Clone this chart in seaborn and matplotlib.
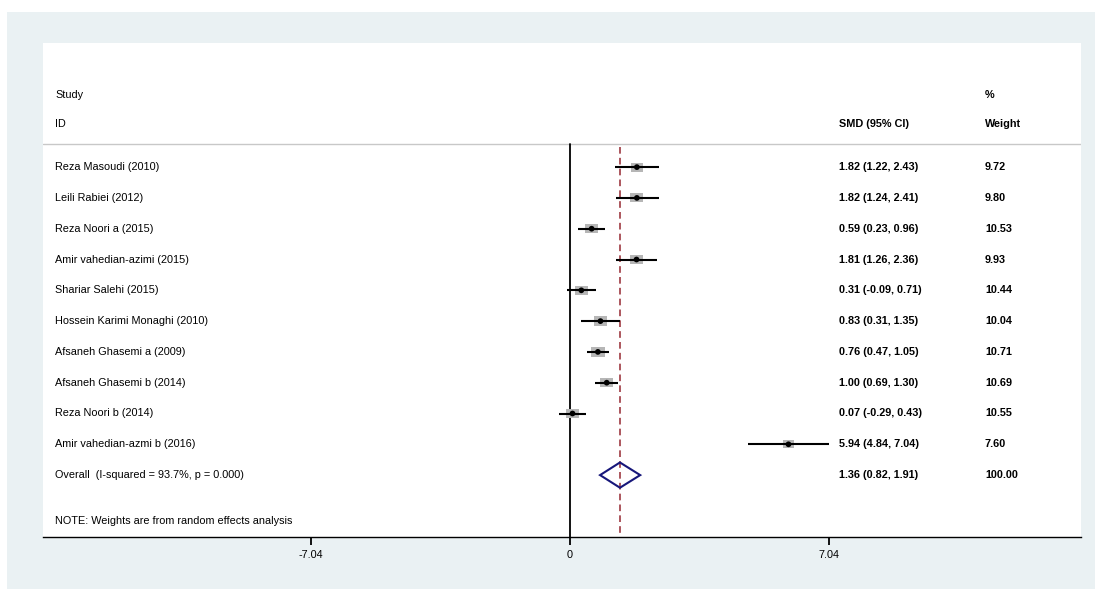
import numpy as np
import pandas as pd
import matplotlib
matplotlib.use("Agg")
import matplotlib.pyplot as plt
import matplotlib.transforms as mtransforms
from matplotlib.patches import Rectangle, Polygon
import seaborn as sns

# Forest plot data (random effects meta-analysis)
studies = ["Reza Masoudi (2010)", "Leili Rabiei (2012)", "Reza Noori a (2015)",
           "Amir vahedian-azimi (2015)", "Shariar Salehi (2015)",
           "Hossein Karimi Monaghi (2010)", "Afsaneh Ghasemi a (2009)",
           "Afsaneh Ghasemi b (2014)", "Reza Noori b (2014)",
           "Amir vahedian-azmi b (2016)"]
smd = [1.82, 1.82, 0.59, 1.81, 0.31, 0.83, 0.76, 1.00, 0.07, 5.94]
ci_low = [1.22, 1.24, 0.23, 1.26, -0.09, 0.31, 0.47, 0.69, -0.29, 4.84]
ci_high = [2.43, 2.41, 0.96, 2.36, 0.71, 1.35, 1.05, 1.30, 0.43, 7.04]
weights = [9.72, 9.80, 10.53, 9.93, 10.44, 10.04, 10.71, 10.69, 10.55, 7.60]
overall = [1.36, 0.82, 1.91]
overall_weight = 100.00
overall_label = "Overall  (I-squared = 93.7%, p = 0.000)"
note = "NOTE: Weights are from random effects analysis"
xticks = [-7.04, 0, 7.04]

df = pd.DataFrame({"study": studies, "smd": smd, "lo": ci_low, "hi": ci_high,
                   "weight": weights})
df["row"] = np.arange(len(df))

sns.set_theme(style="white")
plt.rcParams["font.family"] = ["Liberation Sans", "DejaVu Sans"]
plt.rcParams["text.color"] = "black"
plt.rcParams["xtick.color"] = "black"

fig = plt.figure(figsize=(10.95, 5.89), dpi=100)
fig.patch.set_facecolor("white")
fig.patches.append(Rectangle((7 / 1095, 0), 1, 1 - 12 / 589, transform=fig.transFigure,
                             facecolor="#eaf1f3", edgecolor="none", zorder=-10))

ax = fig.add_axes([43 / 1095, 1 - 537 / 589, 1038 / 1095, 494 / 589])
ax.set_facecolor("white")

xmin, xmax = -14.32, 13.89
ax.set_xlim(xmin, xmax)
ax.set_ylim(12.01, -4.03)

row_header_line = -0.75
row_overall = len(df)
row_note = 11.5

# header separator
ax.axhline(row_header_line, color="#c8c8c8", lw=1.0, zorder=1)

# null line and overall effect line
ax.plot([0, 0], [row_header_line, 12.01], color="black", lw=1.3, zorder=2)
ax.plot([overall[0], overall[0]], [row_header_line + 0.1, 12.01], color="#9e3a42",
        lw=1.2, ls=(0, (4, 2.5)), zorder=2)

# confidence intervals
ax.hlines(df["row"], df["lo"], df["hi"], color="black", lw=1.5, zorder=4)

# weight boxes
box = [(-1.4, -1), (1.4, -1), (1.4, 1), (-1.4, 1)]
sns.scatterplot(data=df, x="smd", y="row", size="weight", sizes=(68, 92),
                size_norm=(7.6, 10.71), marker=box, color="#b6b6b6", edgecolor="none",
                legend=False, ax=ax, zorder=3)
sns.scatterplot(data=df, x="smd", y="row", s=17, color="black", edgecolor="none",
                legend=False, ax=ax, zorder=5)

# overall diamond
h = 0.41
ax.add_patch(Polygon([(overall[1], row_overall), (overall[0], row_overall - h),
                      (overall[2], row_overall), (overall[0], row_overall + h)],
                     closed=True, fill=False, edgecolor="#17177a", lw=1.5, zorder=4))

# text columns
trans = mtransforms.blended_transform_factory(ax.transAxes, ax.transData)
fs = 7.8
col_study, col_ci, col_w = 0.0116, 0.767, 0.9075
ax.text(col_study, -2.34, "Study", transform=trans, fontsize=fs, va="center")
ax.text(col_study, -1.40, "ID", transform=trans, fontsize=fs, va="center")
ax.text(col_ci, -1.40, "SMD (95% CI)", transform=trans, fontsize=fs, va="center",
        fontweight="bold")
ax.text(col_w, -2.34, "%", transform=trans, fontsize=fs, va="center", fontweight="bold")
ax.text(col_w, -1.40, "Weight", transform=trans, fontsize=fs, va="center",
        fontweight="bold")

for r in df.itertuples():
    ax.text(col_study, r.row, r.study, transform=trans, fontsize=fs, va="center")
    ax.text(col_ci, r.row, f"{r.smd:.2f} ({r.lo:.2f}, {r.hi:.2f})", transform=trans,
            fontsize=fs, va="center", fontweight="bold")
    ax.text(col_w, r.row, f"{r.weight:.2f}", transform=trans, fontsize=fs,
            va="center", fontweight="bold")

ax.text(col_study, row_overall, overall_label, transform=trans, fontsize=fs, va="center")
ax.text(col_ci, row_overall, f"{overall[0]:.2f} ({overall[1]:.2f}, {overall[2]:.2f})",
        transform=trans, fontsize=fs, va="center", fontweight="bold")
ax.text(col_w, row_overall, f"{overall_weight:.2f}", transform=trans, fontsize=fs,
        va="center", fontweight="bold")
ax.text(col_study, row_note, note, transform=trans, fontsize=fs, va="center")

# axes styling
for side in ["top", "left", "right"]:
    ax.spines[side].set_visible(False)
ax.spines["bottom"].set_color("black")
ax.spines["bottom"].set_linewidth(1.0)
ax.set_yticks([])
ax.set_xticks(xticks)
ax.set_xticklabels([f"{t:g}" for t in xticks], fontsize=fs)
ax.tick_params(axis="x", direction="out", length=6, width=1.3, color="black", pad=3,
               bottom=True)
ax.set_xlabel("")
ax.set_ylabel("")

fig.savefig("out.png", dpi=100, facecolor=fig.get_facecolor())
